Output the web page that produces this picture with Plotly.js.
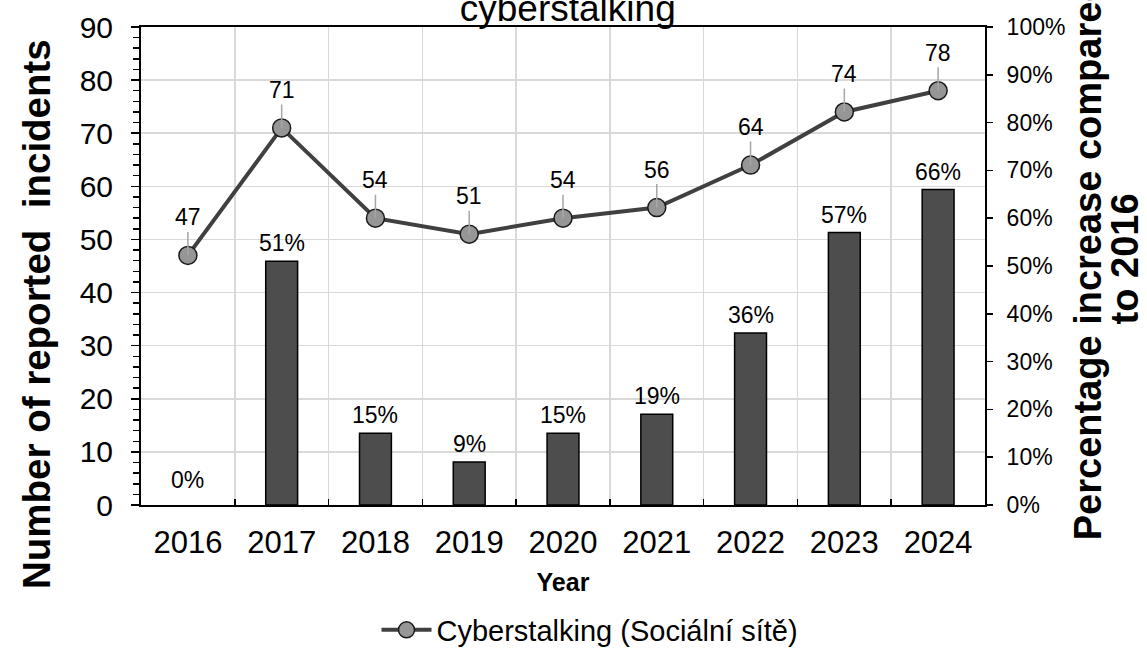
<!DOCTYPE html>
<html>
<head>
<meta charset="utf-8">
<script src="https://cdn.plot.ly/plotly-3.0.1.min.js"></script>
<style>html,body{margin:0;padding:0;background:#fff;}#chart{width:1147px;height:650px;}</style>
</head>
<body>
<div id="chart"></div>
<script>
const years = ['2016','2017','2018','2019','2020','2021','2022','2023','2024'];
const incidents = [47, 71, 54, 51, 54, 56, 64, 74, 78];
const pctIncrease = [0, 0.51, 0.15, 0.09, 0.15, 0.19, 0.36, 0.57, 0.66];
const pctLabels = ['0%','51%','15%','9%','15%','19%','36%','57%','66%'];
const seriesName = 'Cyberstalking (Sociální sítě)';
const titleText = 'cyberstalking';
const leftTitle = 'Number of reported  incidents';
const rightTitleLines = ['Percentage increase compared', 'to 2016'];
const xTitle = 'Year';

const FONT = 'Arial, "Liberation Sans", sans-serif';

const barTrace = {
  type: 'bar', x: years, y: pctIncrease, yaxis: 'y2',
  marker: {color: '#4d4d4d', line: {color: '#000', width: pctIncrease.map(v => v > 0 ? 1.5 : 0)}},
  width: 0.34, showlegend: false, hoverinfo: 'skip'
};
const lineTrace = {
  type: 'scatter', mode: 'lines+markers', x: years, y: incidents, name: seriesName,
  line: {color: '#404040', width: 4},
  marker: {size: 18, color: '#969696', line: {color: '#1a1a1a', width: 1.5}},
  cliponaxis: false
};

const annotations = [];
years.forEach((yr, i) => {
  annotations.push({
    x: i, y: incidents[i], xref: 'x', yref: 'y', text: String(incidents[i]),
    showarrow: true, arrowhead: 0, arrowwidth: 1.5, arrowcolor: '#a6a6a6',
    ax: 0, ay: -38, standoff: 0, startstandoff: 0,
    font: {family: FONT, size: 23, color: '#000'}
  });
  annotations.push({
    x: i, y: pctIncrease[i], xref: 'x', yref: 'y2', text: pctLabels[i],
    showarrow: false, yanchor: 'bottom', yshift: pctIncrease[i] > 0 ? 3 : 10,
    font: {family: FONT, size: 23, color: '#000'}
  });
});
annotations.push({
  xref: 'paper', yref: 'paper', x: -0.123, y: 0.40, text: '<b>' + leftTitle + '</b>',
  textangle: -90, showarrow: false, xanchor: 'center', yanchor: 'middle',
  font: {family: FONT, size: 38.5, color: '#000'}
});
annotations.push({
  xref: 'paper', yref: 'paper', x: 1.122, y: 0.514, text: '<b>' + rightTitleLines[0] + '</b>',
  textangle: -90, showarrow: false, xanchor: 'center', yanchor: 'middle',
  font: {family: FONT, size: 38, color: '#000'}
});
annotations.push({
  xref: 'paper', yref: 'paper', x: 1.166, y: 0.514, text: '<b>' + rightTitleLines[1] + '</b>',
  textangle: -90, showarrow: false, xanchor: 'center', yanchor: 'middle',
  font: {family: FONT, size: 38, color: '#000'}
});

const layout = {
  width: 1147, height: 650,
  margin: {l: 141, r: 162, t: 27, b: 145, autoexpand: false},
  paper_bgcolor: '#fff', plot_bgcolor: '#fff',
  font: {family: FONT, color: '#000'},
  title: {text: titleText, font: {family: FONT, size: 37, color: '#000'},
          x: 0.495, xanchor: 'center', y: 1 - 21/650, yanchor: 'bottom', yref: 'container', pad: {t: 0, b: 0}},
  xaxis: {
    type: 'category', range: [-0.5, 8.5], tickson: 'boundaries', ticks: 'inside', ticklen: 6, tickwidth: 1.5, tickcolor: '#000',
    showgrid: true, gridcolor: '#d9d9d9', gridwidth: 1.5,
    showline: true, linecolor: '#000', linewidth: 2, mirror: true,
    tickfont: {family: FONT, size: 31, color: '#000'}, tickangle: 0, ticklabelstandoff: 9,
    title: {text: '<b>' + xTitle + '</b>', font: {family: FONT, size: 25, color: '#000'}, standoff: 14},
    fixedrange: true
  },
  yaxis: {
    range: [0, 90], dtick: 10, ticks: 'outside', ticklen: 8, tickwidth: 1.5, tickcolor: '#000',
    minor: {dtick: 2, ticks: 'outside', ticklen: 6, tickwidth: 1.5, tickcolor: '#000', showgrid: false},
    showgrid: true, gridcolor: '#d9d9d9', gridwidth: 1.5, zeroline: false,
    showline: true, linecolor: '#000', linewidth: 2,
    tickfont: {family: FONT, size: 30, color: '#000'}, ticklabelstandoff: 12,
    fixedrange: true
  },
  yaxis2: {
    overlaying: 'y', side: 'right', range: [0, 1], dtick: 0.1, tickformat: '.0%',
    ticks: 'outside', ticklen: 6, tickwidth: 1.5, tickcolor: '#000',
    showgrid: false, zeroline: false, showline: true, linecolor: '#000', linewidth: 2,
    tickfont: {family: FONT, size: 23, color: '#000'}, ticklabelstandoff: 9,
    fixedrange: true
  },
  showlegend: true,
  legend: {orientation: 'h', x: 0.532, xanchor: 'center', xref: 'paper', y: 20/650, yanchor: 'middle', yref: 'container',
           font: {family: FONT, size: 29, color: '#000'}, bgcolor: 'rgba(0,0,0,0)', itemwidth: 50},
  annotations: annotations,
  bargap: 0.66
};

Plotly.newPlot('chart', [barTrace, lineTrace], layout, {displayModeBar: false, staticPlot: true});
</script>
</body>
</html>
